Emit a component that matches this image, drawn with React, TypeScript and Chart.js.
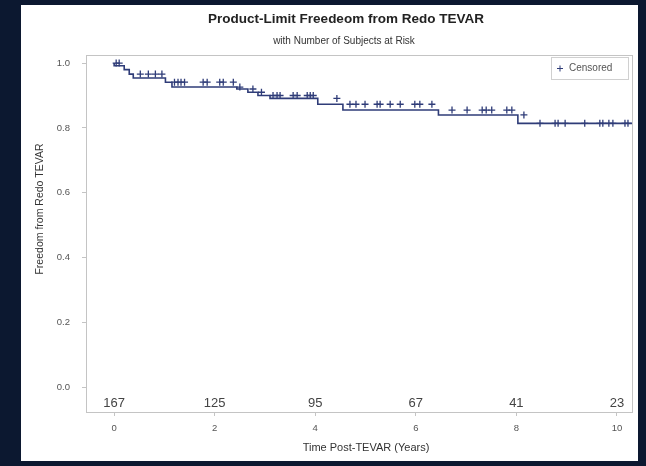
import React, { useEffect, useRef } from 'react';
import { Chart, registerables } from 'chart.js';
Chart.register(...registerables);

// Kaplan-Meier event times (years) and survival after each event
const eventTimes = [0.2, 0.3, 0.38, 1.02, 1.15, 2.44, 2.66, 2.86, 3.1, 4.05, 4.55, 6.45, 8.03, 8.27];
const survivalAfter = [0.992, 0.98, 0.966, 0.954, 0.941, 0.926, 0.92, 0.91, 0.9, 0.891, 0.873, 0.855, 0.84, 0.814];
const lastFollowUp = 10.3;

// Censored observation times (years)
const censorTimes = [
  0.04, 0.1, 0.52, 0.68, 0.82, 0.95,
  1.2, 1.27, 1.33, 1.4, 1.77, 1.85, 2.1, 2.17, 2.37,
  2.5, 2.76, 2.93, 3.16, 3.24, 3.3, 3.56, 3.64, 3.84, 3.9, 3.96,
  4.43, 4.69, 4.81, 4.99, 5.23, 5.29, 5.49, 5.69, 5.98, 6.08, 6.32,
  6.72, 7.02, 7.32, 7.4, 7.51, 7.81, 7.91, 8.15,
  8.47, 8.77, 8.83, 8.97, 9.36, 9.66, 9.72, 9.84, 9.92, 10.16, 10.22,
];

const atRiskTimes = [0, 2, 4, 6, 8, 10];
const atRiskCounts = [167, 125, 95, 67, 41, 23];
const xTicks = [0, 2, 4, 6, 8, 10];
const yTicks = [0, 0.2, 0.4, 0.6, 0.8, 1.0];

const titleText = 'Product-Limit Freedeom from Redo TEVAR';
const subtitleText = 'with Number of Subjects at Risk';
const xTitle = 'Time Post-TEVAR (Years)';
const yTitle = 'Freedom from Redo TEVAR';
const legendText = 'Censored';

const LINE = '#2f3c78';
const FONT = '"Liberation Sans", Arial, sans-serif';

function survivalAt(t: number): number {
  let s = 1;
  for (let i = 0; i < eventTimes.length; i++) {
    if (eventTimes[i] <= t) s = survivalAfter[i];
  }
  return s;
}

export default function App() {
  const ref = useRef<HTMLCanvasElement | null>(null);
  useEffect(() => {
    document.body.style.margin = '0';
    document.body.style.background = '#0c1830';
    const canvas = ref.current;
    if (!canvas) return;

    const linePts = [{ x: 0, y: 1 }];
    eventTimes.forEach((t, i) => linePts.push({ x: t, y: survivalAfter[i] }));
    linePts.push({ x: lastFollowUp, y: survivalAfter[survivalAfter.length - 1] });
    const censPts = censorTimes.map((t) => ({ x: t, y: survivalAt(t) }));

    const decor = {
      id: 'decor',
      beforeDatasetsDraw(chart: any) {
        const { ctx, chartArea: a } = chart;
        ctx.save();
        ctx.strokeStyle = '#c4c4c4';
        ctx.lineWidth = 1;
        ctx.strokeRect(Math.round(a.left) + 0.5, Math.round(a.top) + 0.5, Math.round(a.right - a.left), Math.round(a.bottom - a.top));
        ctx.restore();
      },
      afterDraw(chart: any) {
        const { ctx, chartArea: a, scales } = chart;
        const xs = scales.x;
        ctx.save();
        // titles
        ctx.textAlign = 'center';
        ctx.textBaseline = 'middle';
        ctx.fillStyle = '#222';
        ctx.font = `bold 13.5px ${FONT}`;
        ctx.fillText(titleText, 325, 14);
        ctx.fillStyle = '#333';
        ctx.font = `10px ${FONT}`;
        ctx.fillText(subtitleText, 323, 36);
        // axis titles
        ctx.fillStyle = '#333';
        ctx.font = `11px ${FONT}`;
        ctx.fillText(xTitle, 345, 443);
        ctx.save();
        ctx.translate(19, 204);
        ctx.rotate(-Math.PI / 2);
        ctx.font = `10.5px ${FONT}`;
        ctx.fillText(yTitle, 0, 0);
        ctx.restore();
        // at-risk numbers
        ctx.fillStyle = '#444';
        ctx.font = `13px ${FONT}`;
        atRiskTimes.forEach((t, i) => {
          ctx.fillText(String(atRiskCounts[i]), xs.getPixelForValue(t), a.bottom - 9);
        });
        // legend box
        const lx = a.right - 81, ly = a.top + 2;
        ctx.strokeStyle = '#d0d0d0';
        ctx.strokeRect(lx + 0.5, ly + 0.5, 77, 22);
        ctx.strokeStyle = LINE;
        ctx.lineWidth = 1;
        ctx.beginPath();
        ctx.moveTo(lx + 6, ly + 11.5); ctx.lineTo(lx + 12, ly + 11.5);
        ctx.moveTo(lx + 9, ly + 8.5); ctx.lineTo(lx + 9, ly + 14.5);
        ctx.stroke();
        ctx.fillStyle = '#555';
        ctx.font = `10px ${FONT}`;
        ctx.textAlign = 'left';
        ctx.fillText(legendText, lx + 18, ly + 11.5);
        ctx.restore();
      },
    };

    const chart = new Chart(canvas, {
      type: 'scatter',
      data: {
        datasets: [
          {
            type: 'line',
            data: linePts,
            borderColor: LINE,
            borderWidth: 1.6,
            stepped: 'after',
            pointRadius: 0,
            fill: false,
          } as any,
          {
            type: 'scatter',
            data: censPts,
            pointStyle: 'cross',
            pointRadius: 3.5,
            borderColor: LINE,
            borderWidth: 1.3,
            backgroundColor: LINE,
          } as any,
        ],
      },
      options: {
        animation: false,
        responsive: false,
        devicePixelRatio: 1,
        layout: { padding: { top: 50, left: 0, right: 6, bottom: 0 } },
        plugins: { legend: { display: false }, tooltip: { enabled: false }, title: { display: false } },
        scales: {
          x: {
            type: 'linear',
            min: -0.56,
            max: 10.3,
            afterBuildTicks: (s: any) => { s.ticks = xTicks.map((v) => ({ value: v })); },
            afterFit: (s: any) => { s.height = 48; },
            grid: { display: true, drawOnChartArea: false, drawTicks: true, tickLength: 4, color: '#c4c4c4' },
            border: { display: true, color: '#c4c4c4' },
            ticks: { color: '#555', font: { size: 9.5, family: FONT }, padding: 7, maxRotation: 0, callback: (v: any) => String(v) },
            title: { display: false },
          },
          y: {
            type: 'linear',
            min: -0.077,
            max: 1.025,
            afterBuildTicks: (s: any) => { s.ticks = yTicks.map((v) => ({ value: v })); },
            afterFit: (s: any) => { s.width = 65; },
            grid: { display: true, drawOnChartArea: false, drawTicks: true, tickLength: 4, color: '#c4c4c4' },
            border: { display: true, color: '#c4c4c4' },
            ticks: { color: '#555', font: { size: 9.5, family: FONT }, padding: 12, callback: (v: any) => Number(v).toFixed(1) },
            title: { display: false },
          },
        },
      },
      plugins: [decor],
    });
    return () => chart.destroy();
  }, []);

  return (
    <div style={{ position: 'relative', width: 646, height: 466, background: '#0c1830', overflow: 'hidden' }}>
      <div style={{ position: 'absolute', left: 21, top: 5, width: 617, height: 456, background: '#ffffff' }}>
        <canvas ref={ref} width={617} height={455} style={{ display: 'block' }} />
      </div>
    </div>
  );
}
